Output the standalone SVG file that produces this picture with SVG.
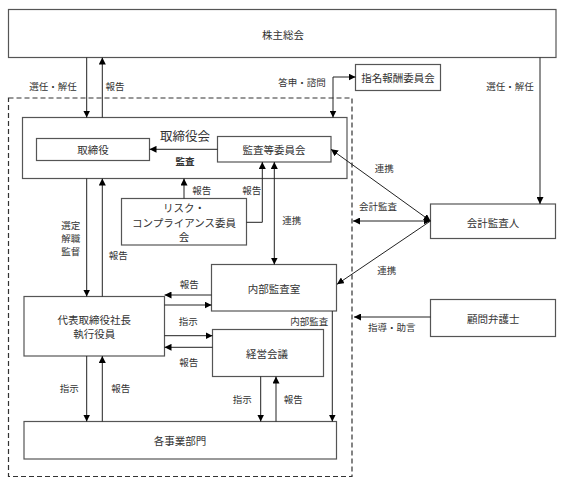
<svg xmlns="http://www.w3.org/2000/svg" width="574" height="488" viewBox="0 0 574 488">
<defs>
<marker id="arr" viewBox="0 0 10 10" refX="10" refY="5" markerWidth="7" markerHeight="7" markerUnits="userSpaceOnUse" orient="auto-start-reverse">
<path d="M0,0 L10,5 L0,10 z" fill="#000"/>
</marker>
</defs>
<style>
.box{fill:#fff;stroke:#555;stroke-width:1.2}
.dash{fill:none;stroke:#333;stroke-width:1.2;stroke-dasharray:5,3}
.ln{fill:none;stroke:#222;stroke-width:1}
.t{font-family:"Noto Sans CJK JP","Noto Sans",sans-serif;font-size:10.5px;fill:#333;text-anchor:middle;dominant-baseline:central}
.l{font-family:"Noto Sans CJK JP","Noto Sans",sans-serif;font-size:9.5px;fill:#333;text-anchor:middle;dominant-baseline:central}
.ttl{font-size:12.5px}
.b{font-weight:bold}
</style>
<rect class="dash" x="8.5" y="98" width="343.5" height="378.5"/>
<g id="n-shareholders"><rect class="box" x="8.5" y="9.5" width="547.5" height="48"/><text class="t" x="283" y="34">株主総会</text></g>
<g id="n-nomination"><rect class="box" x="355.5" y="64.5" width="85" height="26"/><text class="t" x="398" y="77.5">指名報酬委員会</text></g>
<g id="n-board"><rect class="box" x="22.5" y="117.5" width="324.5" height="61"/><text class="t ttl" x="185" y="135">取締役会</text></g>
<g id="n-directors"><rect class="box" x="36.5" y="138.5" width="113" height="22"/><text class="t" x="93" y="149.5">取締役</text></g>
<g id="n-audit-committee"><rect class="box" x="217.5" y="136.5" width="113.5" height="25.5"/><text class="t" x="274" y="149.5">監査等委員会</text></g>
<g id="n-risk"><rect class="box" x="121.5" y="198.5" width="125" height="46.5"/><text class="t" x="184" y="207.5">リスク・</text><text class="t" x="184" y="222.3">コンプライアンス委員</text><text class="t" x="184" y="236.5">会</text></g>
<g id="n-accounting-auditor"><rect class="box" x="430.5" y="204" width="125" height="34.5"/><text class="t" x="493" y="222">会計監査人</text></g>
<g id="n-internal-audit"><rect class="box" x="211.5" y="264.5" width="125" height="46.5"/><text class="t" x="274" y="288.5">内部監査室</text></g>
<g id="n-president"><rect class="box" x="24" y="296.5" width="140.5" height="59.5"/><text class="t" x="94.3" y="319.5">代表取締役社長</text><text class="t" x="94.3" y="333.5">執行役員</text></g>
<g id="n-management"><rect class="box" x="212.5" y="329.5" width="111" height="47"/><text class="t" x="267" y="353.5">経営会議</text></g>
<g id="n-lawyer"><rect class="box" x="430.5" y="299.5" width="125" height="37"/><text class="t" x="493.3" y="318">顧問弁護士</text></g>
<g id="n-divisions"><rect class="box" x="24" y="421.5" width="312.5" height="37.5"/><text class="t" x="180" y="440">各事業部門</text></g>
<g id="connectors">
<line class="ln" x1="86.7" y1="57.5" x2="86.7" y2="117.5" marker-end="url(#arr)"/>
<line class="ln" x1="102.3" y1="117.5" x2="102.3" y2="57.5" marker-end="url(#arr)"/>
<path class="ln" d="M333,117.5 V77 H355.5" marker-start="url(#arr)" marker-end="url(#arr)"/>
<line class="ln" x1="540" y1="57.5" x2="540" y2="204" marker-end="url(#arr)"/>
<line class="ln" x1="217.5" y1="149.3" x2="149.5" y2="149.3" marker-end="url(#arr)"/>
<line class="ln" x1="331" y1="149.3" x2="430.5" y2="221" marker-start="url(#arr)" marker-end="url(#arr)"/>
<line class="ln" x1="353" y1="221" x2="430.5" y2="221" marker-start="url(#arr)" marker-end="url(#arr)"/>
<line class="ln" x1="430.5" y1="221" x2="337" y2="284.3" marker-end="url(#arr)"/>
<line class="ln" x1="430.5" y1="317" x2="354" y2="317" marker-end="url(#arr)"/>
<line class="ln" x1="184" y1="198.5" x2="184" y2="178.5" marker-end="url(#arr)"/>
<path class="ln" d="M246.5,222.3 H262.3 V162" marker-end="url(#arr)"/>
<line class="ln" x1="274.3" y1="162" x2="274.3" y2="264.5" marker-start="url(#arr)" marker-end="url(#arr)"/>
<line class="ln" x1="86.7" y1="178.5" x2="86.7" y2="296.5" marker-end="url(#arr)"/>
<line class="ln" x1="102.3" y1="296.5" x2="102.3" y2="178.5" marker-end="url(#arr)"/>
<line class="ln" x1="211.5" y1="295" x2="164.5" y2="295" marker-end="url(#arr)"/>
<line class="ln" x1="164.5" y1="305" x2="211.5" y2="305" marker-end="url(#arr)"/>
<line class="ln" x1="164.5" y1="335.7" x2="212.5" y2="335.7" marker-end="url(#arr)"/>
<line class="ln" x1="212.5" y1="347.3" x2="164.5" y2="347.3" marker-end="url(#arr)"/>
<line class="ln" x1="86.7" y1="356" x2="86.7" y2="421.5" marker-end="url(#arr)"/>
<line class="ln" x1="102.3" y1="421.5" x2="102.3" y2="356" marker-end="url(#arr)"/>
<line class="ln" x1="260.7" y1="376.5" x2="260.7" y2="421.5" marker-end="url(#arr)"/>
<line class="ln" x1="276" y1="421.5" x2="276" y2="376.5" marker-end="url(#arr)"/>
<line class="ln" x1="332.3" y1="311" x2="332.3" y2="421.5" marker-end="url(#arr)"/>
</g>
<g id="labels">
<text class="l" x="53" y="86">選任・解任</text>
<text class="l" x="115" y="86">報告</text>
<text class="l" x="302" y="82">答申・諮問</text>
<text class="l" x="510" y="86">選任・解任</text>
<text class="l b" x="185" y="161">監査</text>
<text class="l" x="201.7" y="190">報告</text>
<text class="l" x="251.7" y="190">報告</text>
<text class="l" x="291.7" y="220">連携</text>
<text class="l" x="384.3" y="168.3">連携</text>
<text class="l" x="378" y="206">会計監査</text>
<text class="l" x="386.7" y="270">連携</text>
<text class="l" x="70.7" y="225">選定</text>
<text class="l" x="70.7" y="237.5">解職</text>
<text class="l" x="70.7" y="250.5">監督</text>
<text class="l" x="118.3" y="255">報告</text>
<text class="l" x="189.3" y="284.3">報告</text>
<text class="l" x="188.3" y="321">指示</text>
<text class="l" x="188.7" y="362.3">報告</text>
<text class="l" x="309.3" y="321">内部監査</text>
<text class="l" x="391.7" y="327.3">指導・助言</text>
<text class="l" x="69.3" y="388.3">指示</text>
<text class="l" x="120.7" y="388.3">報告</text>
<text class="l" x="242.3" y="399">指示</text>
<text class="l" x="293.3" y="399">報告</text>
</g>
</svg>
